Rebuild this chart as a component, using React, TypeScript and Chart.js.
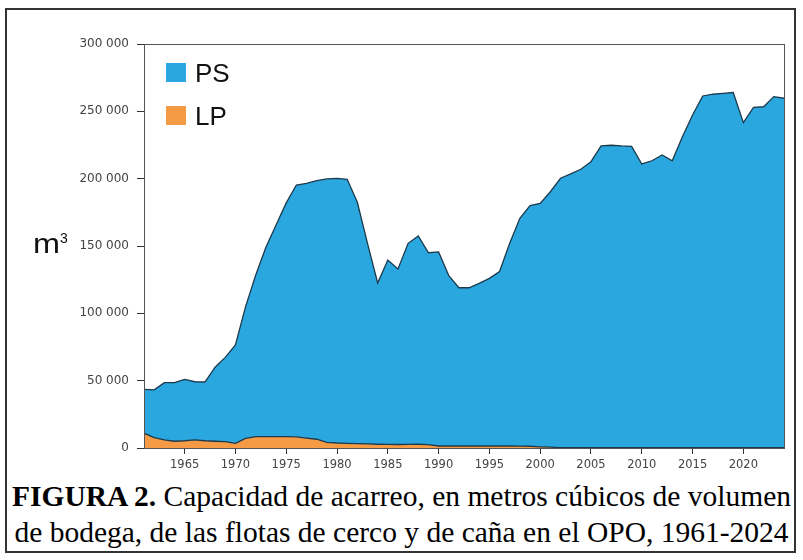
import React, { useEffect, useRef } from 'react';
import { Chart, registerables } from 'chart.js';

Chart.register(...registerables);

const YEARS = [
  1961, 1962, 1963, 1964, 1965, 1966, 1967, 1968, 1969, 1970,
  1971, 1972, 1973, 1974, 1975, 1976, 1977, 1978, 1979, 1980,
  1981, 1982, 1983, 1984, 1985, 1986, 1987, 1988, 1989, 1990,
  1991, 1992, 1993, 1994, 1995, 1996, 1997, 1998, 1999, 2000,
  2001, 2002, 2003, 2004, 2005, 2006, 2007, 2008, 2009, 2010,
  2011, 2012, 2013, 2014, 2015, 2016, 2017, 2018, 2019, 2020,
  2021, 2022, 2023, 2024,
];

// Purse-seine (cerco) carrying capacity, m3
const PS = [
  32600, 35500, 42500, 43500, 45600, 43200, 43600, 55000, 62600, 73000,
  97800, 120100, 140600, 157200, 173500, 187000, 189100, 192000, 195600, 196500,
  196000, 179300, 149000, 119700, 136900, 130400, 149300, 154600, 142500, 144100,
  126500, 117500, 117500, 120800, 124500, 129500, 150500, 169200, 178700, 180800,
  189700, 200000, 203300, 206800, 212400, 224100, 224600, 224100, 223800, 210700,
  213100, 217400, 213100, 231000, 247100, 261200, 262500, 263200, 263800, 241400,
  252800, 253200, 260700, 259500,
];

// Pole-and-line (caña) carrying capacity, m3
const LP = [
  11000, 7700, 6000, 5000, 5400, 6000, 5400, 5000, 4700, 3500,
  7200, 8400, 8400, 8400, 8500, 8300, 7400, 6500, 4200, 3700,
  3500, 3200, 3000, 2800, 2700, 2600, 2700, 2800, 2500, 1500,
  1500, 1500, 1500, 1500, 1500, 1500, 1500, 1400, 1300, 900,
  600, 300, 200, 200, 200, 200, 200, 200, 200, 200,
  200, 200, 200, 200, 200, 200, 200, 200, 200, 200,
  200, 200, 200, 200,
];

const X_TICKS = [1965, 1970, 1975, 1980, 1985, 1990, 1995, 2000, 2005, 2010, 2015, 2020];
const Y_TICKS = [0, 50000, 100000, 150000, 200000, 250000, 300000];

const BLUE = '#2ba7df';
const ORANGE = '#f59a45';
const OUTLINE = '#1c3a4c';

const fmt = (v: number) => String(v).replace(/\B(?=(\d{3})+(?!\d))/g, ' ');

const framePlugin = {
  id: 'frame',
  afterDatasetsDraw(chart: any) {
    const { ctx, chartArea: a } = chart;
    ctx.save();
    ctx.strokeStyle = '#555';
    ctx.lineWidth = 1;
    ctx.strokeRect(Math.round(a.left) + 0.5, Math.round(a.top) + 0.5, Math.round(a.right - a.left), Math.round(a.bottom - a.top));
    ctx.restore();
  },
};

const legendPlugin = {
  id: 'insideLegend',
  afterDraw(chart: any) {
    const { ctx, chartArea: a } = chart;
    const items = chart.data.datasets.slice().reverse();
    ctx.save();
    items.forEach((ds: any, i: number) => {
      const top = a.top + 19 + i * 43;
      ctx.fillStyle = ds.backgroundColor;
      ctx.fillRect(a.left + 22, top, 20, 19);
      ctx.fillStyle = '#111';
      ctx.font = '26px "Liberation Sans", Arial, sans-serif';
      ctx.textBaseline = 'alphabetic';
      ctx.textAlign = 'left';
      ctx.fillText(ds.label, a.left + 51, top + 19);
    });
    // y axis unit label
    ctx.fillStyle = '#111';
    ctx.save();
    ctx.translate(33, 253);
    ctx.scale(1.2, 1);
    ctx.font = '27px "Liberation Sans", Arial, sans-serif';
    ctx.fillText('m', 0, 0);
    ctx.restore();
    ctx.font = '14px "Liberation Sans", Arial, sans-serif';
    ctx.fillText('3', 60, 243);
    ctx.restore();
  },
};

function AreaChart() {
  const ref = useRef<HTMLCanvasElement | null>(null);
  useEffect(() => {
    if (!ref.current) return;
    const chart = new Chart(ref.current, {
      type: 'line',
      data: {
        datasets: [
          {
            label: 'LP',
            data: YEARS.map((y, i) => ({ x: y, y: LP[i] })),
            backgroundColor: ORANGE,
            borderColor: OUTLINE,
            borderWidth: 1.3,
            pointRadius: 0,
            fill: 'origin',
            tension: 0,
          },
          {
            label: 'PS',
            data: YEARS.map((y, i) => ({ x: y, y: PS[i] })),
            backgroundColor: BLUE,
            borderColor: OUTLINE,
            borderWidth: 1.3,
            pointRadius: 0,
            fill: '-1',
            tension: 0,
          },
        ],
      },
      options: {
        responsive: false,
        animation: false,
        layout: { padding: { left: 0, top: 44, right: 19, bottom: 0 } },
        plugins: { legend: { display: false }, tooltip: { enabled: false } },
        scales: {
          x: {
            type: 'linear',
            min: 1961,
            max: 2024,
            afterBuildTicks: (s: any) => { s.ticks = X_TICKS.map((v) => ({ value: v })); },
            afterFit: (s: any) => { s.height = 24; },
            border: { display: false },
            grid: { drawOnChartArea: false, drawTicks: true, tickLength: 6, color: '#333', lineWidth: 1 },
            ticks: {
              callback: (v: any) => String(v),
              color: '#444',
              font: { family: '"DejaVu Sans", sans-serif', size: 11.5 },
              padding: 4,
              maxRotation: 0,
            },
          },
          y: {
            stacked: true,
            min: 0,
            max: 300000,
            afterBuildTicks: (s: any) => { s.ticks = Y_TICKS.map((v) => ({ value: v })); },
            afterFit: (s: any) => { s.width = 144; },
            border: { display: false },
            grid: { drawOnChartArea: false, drawTicks: true, tickLength: 7, color: '#333', lineWidth: 1 },
            ticks: {
              callback: (v: any) => fmt(Number(v)),
              color: '#444',
              font: { family: '"DejaVu Sans", sans-serif', size: 12 },
              padding: 8,
            },
          },
        },
      },
      plugins: [framePlugin, legendPlugin],
    } as any);
    return () => chart.destroy();
  }, []);
  return <canvas ref={ref} width={803} height={472} style={{ position: 'absolute', left: 0, top: 0 }} />;
}

export default function App() {
  return (
    <div style={{ position: 'absolute', left: 0, top: 0, width: 803, height: 560, background: '#fff', overflow: 'hidden' }}>
      <div style={{ position: 'absolute', left: 5, top: 8, width: 791, height: 545, border: '2px solid #333', boxSizing: 'border-box' }} />
      <AreaChart />
      <div
        style={{
          position: 'absolute',
          left: 0,
          top: 478,
          width: 803,
          textAlign: 'center',
          fontFamily: '"Liberation Serif", "Times New Roman", serif',
          fontSize: 29.5,
          lineHeight: '36px',
          color: '#000',
          whiteSpace: 'nowrap',
        }}
      >
        <div><b>FIGURA 2.</b> Capacidad de acarreo, en metros cúbicos de volumen</div>
        <div>de bodega, de las flotas de cerco y de caña en el OPO, 1961-2024</div>
      </div>
    </div>
  );
}
